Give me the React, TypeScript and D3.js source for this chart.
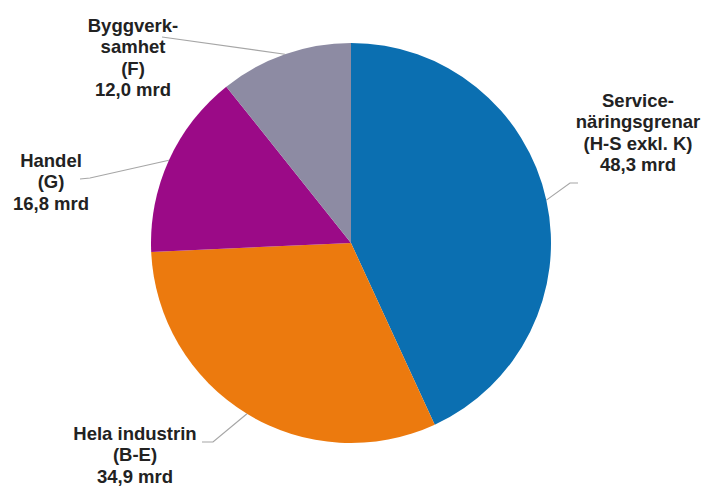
import React from 'react';
import * as d3 from 'd3';

// sectors, clockwise from 12 o'clock
const sectors = ['Service', 'Industri', 'Handel', 'Bygg'];
const values = [48.3, 34.9, 16.8, 12.0];
const colors = ['#0b6fb1', '#ec7a0e', '#9b0a87', '#8d8ba3'];
const labels = [
  ['Service-', 'näringsgrenar', '(H-S exkl. K)', '48,3 mrd'],
  ['Hela industrin', '(B-E)', '34,9 mrd'],
  ['Handel', '(G)', '16,8 mrd'],
  ['Byggverk-', 'samhet', '(F)', '12,0 mrd'],
];

const width = 704;
const height = 486;
const cx = 351;
const cy = 243;
const r = 200;
const lineH = 21.4;

// where each label block sits and where its leader line bends
const labelPos = [
  { x: 638, y: 107, knee: [570, 183], end: [578, 183] },
  { x: 135, y: 440, knee: [213, 442], end: [202, 442] },
  { x: 51, y: 167, knee: [90, 178], end: [80, 179] },
  { x: 133, y: 32, knee: null, end: [162, 37] },
];

const App = () => {
  const pie = d3.pie<number>().sort(null).value(d => d);
  const arcs = pie(values);
  const arc = d3.arc<d3.PieArcDatum<number>>().innerRadius(0).outerRadius(r);
  const edge = d3.arc<d3.PieArcDatum<number>>().innerRadius(r).outerRadius(r);

  return (
    <svg width={width} height={height} style={{ display: 'block', position: 'absolute', left: 0, top: 0 }}>
      <rect width={width} height={height} fill="#fff" />
      <g transform={`translate(${cx},${cy})`}>
        {arcs.map((a, i) => (
          <path key={sectors[i]} d={arc(a) || ''} fill={colors[i]} />
        ))}
      </g>
      {arcs.map((a, i) => {
        const [ex, ey] = edge.centroid(a);
        const p = labelPos[i];
        const pts: [number, number][] = [[cx + ex, cy + ey]];
        if (p.knee) pts.push(p.knee as [number, number]);
        pts.push(p.end as [number, number]);
        return (
          <path key={'l' + i} d={d3.line()(pts) || ''} fill="none" stroke="#a6a6a6" strokeWidth={1.2} />
        );
      })}
      {labels.map((lines, i) => (
        <text
          key={'t' + i}
          x={labelPos[i].x}
          y={labelPos[i].y}
          textAnchor="middle"
          style={{ font: 'bold 18.5px "Liberation Sans", Arial, sans-serif', fill: '#222' }}
        >
          {lines.map((s, j) => (
            <tspan key={j} x={labelPos[i].x} y={labelPos[i].y + j * lineH}>{s}</tspan>
          ))}
        </text>
      ))}
    </svg>
  );
};

export default App;
